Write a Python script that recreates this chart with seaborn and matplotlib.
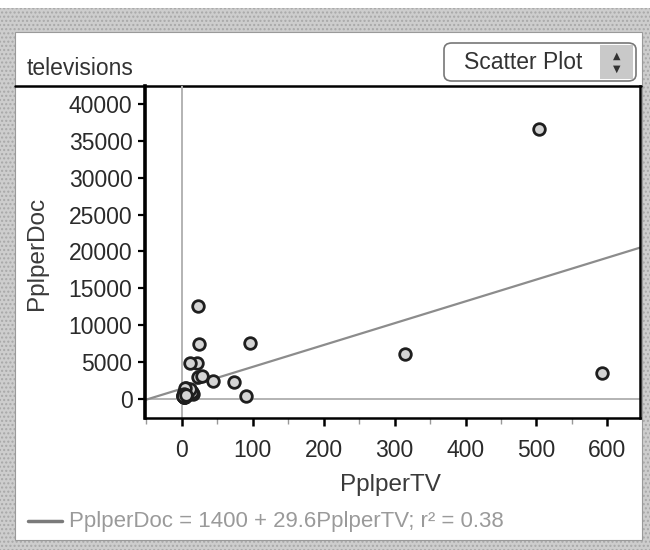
import matplotlib
matplotlib.use("Agg")
import matplotlib.pyplot as plt
from matplotlib.patches import Rectangle, FancyBboxPatch
from matplotlib.lines import Line2D
import numpy as np
import pandas as pd
import seaborn as sns

# ---- data (people per TV, people per doctor) ----
countries = ["Argentina", "Bangladesh", "Brazil", "Canada", "China", "Colombia", "Egypt",
             "Ethiopia", "France", "Germany", "India", "Indonesia", "Iran", "Italy", "Japan",
             "Kenya", "North Korea", "South Korea", "Mexico", "Morocco", "Myanmar", "Pakistan",
             "Peru", "Philippines", "Romania", "Russia", "South Africa", "Spain", "Sudan",
             "Taiwan", "Thailand", "Turkey", "Ukraine", "UK", "USA", "Venezuela", "Vietnam"]
ppl_per_tv = [4, 315, 4, 1.7, 8, 5.6, 15, 503, 2.6, 2.6, 44, 24, 23, 3.8, 1.8, 96, 90, 4.9,
              6.6, 21, 592, 73, 14, 8.8, 6, 3.2, 11, 2.6, 23, 3.2, 11, 5, 3, 3, 1.3, 5.6, 29]
ppl_per_doc = [370, 6166, 684, 449, 643, 1551, 616, 36660, 403, 346, 2471, 7427, 2992, 233,
               609, 7615, 370, 1066, 600, 4873, 3485, 2364, 1016, 1062, 559, 259, 1340, 275,
               12550, 965, 4883, 1443, 226, 611, 404, 576, 3096]
fit_intercept = 1400
fit_slope = 29.6
fit_r2 = 0.38
x_ticks = [0, 100, 200, 300, 400, 500, 600]
y_ticks = [0, 5000, 10000, 15000, 20000, 25000, 30000, 35000, 40000]

df = pd.DataFrame({"country": countries, "PplperTV": ppl_per_tv, "PplperDoc": ppl_per_doc})

sns.set_theme(style="white")
plt.rcParams["font.family"] = ["Liberation Sans", "DejaVu Sans"]

W, H = 650, 550
fig = plt.figure(figsize=(6.5, 5.5), dpi=100)
fig.patch.set_facecolor("white")

def fx(px):
    return px / W

def fy(py):
    return 1 - py / H

# outer gray frame with halftone-ish texture
fig.patches.append(Rectangle((0, 0), 1, fy(8), transform=fig.transFigure,
                             facecolor="#cdcdcd", edgecolor="#a8a8a8", hatch="....",
                             lw=0, zorder=0))
# white panel
fig.patches.append(Rectangle((fx(15), fy(540)), fx(642) - fx(15), fy(32) - fy(540),
                             transform=fig.transFigure, facecolor="white",
                             edgecolor="#9a9a9a", lw=0.8, zorder=1))

# header
fig.text(fx(27), fy(75), "televisions", fontsize=16.5, color="#333333",
         ha="left", va="baseline", zorder=3)
fig.patches.append(FancyBboxPatch((fx(444), fy(81)), fx(636) - fx(444), fy(43) - fy(81),
                                  boxstyle="round,pad=0,rounding_size=0.012",
                                  transform=fig.transFigure, facecolor="white",
                                  edgecolor="#777777", lw=1.2, zorder=2))
fig.patches.append(Rectangle((fx(600), fy(79)), fx(633) - fx(600), fy(45) - fy(79),
                             transform=fig.transFigure, facecolor="#c9c9c9",
                             edgecolor="none", zorder=2))
fig.text(fx(523), fy(62), "Scatter Plot", fontsize=16.5, color="#333333",
         ha="center", va="center", zorder=3)
fig.text(fx(617), fy(56), "▲", fontsize=7, color="#333333", ha="center", va="center",
         family=["DejaVu Sans"], zorder=3)
fig.text(fx(617), fy(69), "▼", fontsize=7, color="#333333", ha="center", va="center",
         family=["DejaVu Sans"], zorder=3)

# top frame line across panel
fig.lines.append(Line2D([fx(15), fx(641)], [fy(86), fy(86)], transform=fig.transFigure,
                        color="black", lw=1.8, zorder=3))

# axes
ax = fig.add_axes([fx(145), fy(418), fx(640) - fx(145), fy(86) - fy(418)], zorder=4)
ax.set_facecolor("none")
x_lo, x_hi = -52, 646
y_lo, y_hi = -2576, 42440
ax.set_xlim(x_lo, x_hi)
ax.set_ylim(y_lo, y_hi)

# reference lines at zero
ax.axvline(0, color="#b3b3b3", lw=1.4, zorder=1)
ax.axhline(0, color="#b3b3b3", lw=1.4, zorder=1)

# least-squares line from the stated coefficients
line_x = np.array([x_lo, x_hi])
line_df = pd.DataFrame({"PplperTV": line_x, "PplperDoc": fit_intercept + fit_slope * line_x})
sns.lineplot(data=line_df, x="PplperTV", y="PplperDoc", ax=ax, color="#8c8c8c", lw=1.6,
             zorder=2)

sns.scatterplot(data=df, x="PplperTV", y="PplperDoc", ax=ax, s=70,
                facecolor="#d4d4d4", edgecolor="#1e1e1e", linewidth=2.0, zorder=3)

ax.set_xticks(x_ticks)
ax.set_xticks([-50] + list(np.array(x_ticks[:-1]) + 50), minor=True)
ax.set_yticks(y_ticks)
ax.set_xticklabels([str(v) for v in x_ticks])
ax.set_yticklabels([str(v) for v in y_ticks])
ax.tick_params(axis="x", which="major", direction="out", length=6, width=1.8,
               color="black", labelsize=16.5, labelcolor="#2a2a2a", pad=9, bottom=True)
ax.tick_params(axis="x", which="minor", direction="out", length=4, width=1.0,
               color="#999999", bottom=True)
ax.tick_params(axis="y", which="major", direction="out", length=5, width=1.6,
               color="black", labelsize=16.5, labelcolor="#2a2a2a", pad=4, left=True)
ax.set_xlabel("")
ax.set_ylabel("")
for side in ["left", "right", "bottom", "top"]:
    ax.spines[side].set_color("black")
ax.spines["left"].set_linewidth(2.6)
ax.spines["right"].set_linewidth(1.8)
ax.spines["bottom"].set_linewidth(1.8)
ax.spines["top"].set_visible(False)
if ax.get_legend() is not None:
    ax.get_legend().remove()

# axis titles
fig.text(fx(37), fy(253), "PplperDoc", rotation=90, fontsize=17.5, color="#3a3a3a",
         ha="center", va="center")
fig.text(fx(390), fy(485), "PplperTV", fontsize=17.5, color="#3a3a3a",
         ha="center", va="center")

# fit legend
fig.lines.append(Line2D([fx(28), fx(62)], [fy(521), fy(521)], transform=fig.transFigure,
                        color="#7a7a7a", lw=2.5))
fig.text(fx(69), fy(521),
         f"PplperDoc = {fit_intercept} + {fit_slope}PplperTV; r\u00b2 = {fit_r2}",
         fontsize=16, color="#9a9a9a", ha="left", va="center")

fig.savefig("out.png", dpi=100)
